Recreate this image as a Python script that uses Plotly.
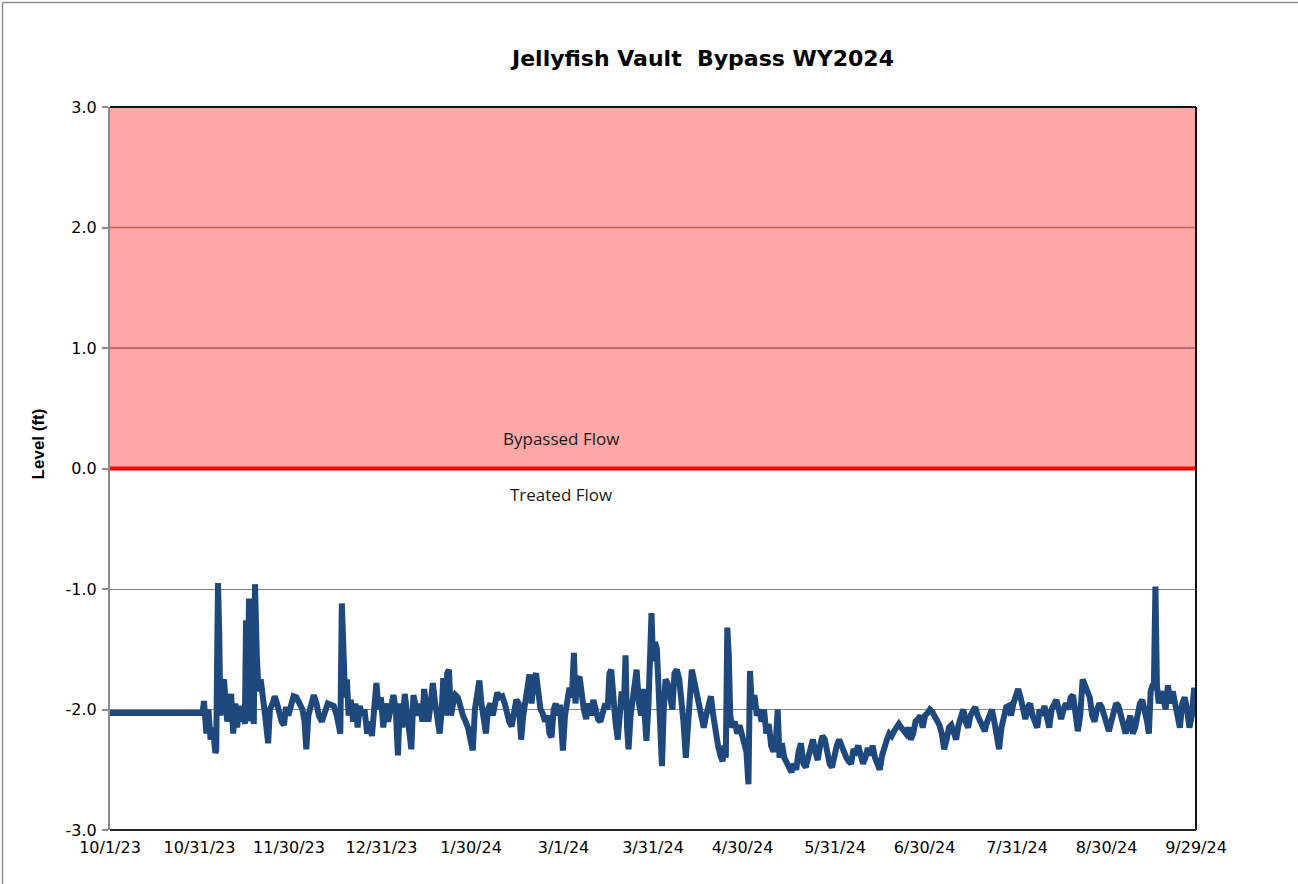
import datetime as dt
import plotly.graph_objects as go

# ---------------- data ----------------
start_date = "2023-10-01"
day_offsets = [
    0, 31, 31.5, 32.3, 33, 33.7, 34.5, 35.3, 35.6, 35.9, 36.2, 36.6, 37, 37.6, 38.2, 38.8, 39.3, 40, 40.6, 41.3,
    42, 42.6, 43.3, 44, 44.6, 45.2, 45.6, 46, 46.6, 47.2, 47.6, 48.2, 48.6, 49.2, 49.8, 50.5, 51.2, 52, 53, 53.6,
    54.5, 55.2, 56, 56.8, 57.5, 58.3, 59, 59.8, 60.6, 61.5, 62.5, 63.5, 64.5, 65.2, 65.8, 66.5, 67.3, 68.3, 69.2, 70,
    71, 72, 73, 74, 75, 76, 77.2, 77.7, 78.2, 78.8, 79.4, 80, 80.7, 81.5, 82.3, 83, 83.7, 84.5, 85.3, 86.2,
    87, 87.8, 88.6, 89.3, 90, 90.8, 91.6, 92.3, 93.2, 94.2, 95, 95.8, 96.5, 97.2, 98, 98.8, 99.6, 100.4, 101, 101.7,
    102.4, 103.2, 104, 104.7, 105.3, 106, 106.7, 107.5, 108.2, 109, 109.8, 110.5, 111.2, 111.7, 112.3, 113, 113.6, 114.3, 115, 115.8,
    116.6, 117.4, 118.3, 119.2, 120, 120.8, 121.6, 122.3, 123, 123.8, 124.5, 125.3, 126, 126.7, 127.5, 128.3, 129, 129.8, 130.6, 131.5,
    132.3, 133, 133.8, 134.6, 135.4, 136.2, 137, 137.8, 138.5, 139.3, 140, 140.6, 141.3, 142, 142.8, 143.5, 144.3, 145, 145.8, 146.6,
    147.3, 148, 148.7, 149.4, 150.2, 150.8, 151.4, 151.8, 152.5, 153.3, 154, 154.8, 155.5, 156, 156.7, 157.4, 158, 158.8, 159.6, 160.4,
    161.2, 162, 162.8, 163.6, 164.4, 165.2, 166, 166.8, 167.4, 168, 168.7, 169.4, 170.2, 170.8, 171.5, 172.2, 172.8, 173.3, 173.8, 174.5,
    175.2, 175.8, 176.5, 177.3, 178, 178.6, 179.3, 179.8, 180.5, 181, 181.5, 182, 182.7, 183.3, 183.8, 184.4, 185, 185.6, 186.2, 187,
    187.8, 188.5, 189.2, 190, 190.8, 191.5, 192.2, 193, 193.7, 194.4, 195, 195.7, 196.5, 197.3, 198.2, 199, 199.8, 200.6, 201.4, 202.2,
    203, 203.8, 204.6, 205.3, 205.9, 206.4, 206.9, 207.4, 207.9, 208.6, 209.4, 210.2, 211, 211.8, 212.6, 213.3, 214, 214.5, 215.2, 216,
    216.8, 217.6, 218.4, 219.2, 220, 220.8, 221.6, 222.4, 223.2, 223.8, 224.4, 225.2, 226, 226.8, 227.6, 228.4, 229.2, 230, 230.8, 231.6,
    232.4, 233.2, 234, 234.8, 235.6, 236.4, 237.2, 238, 238.8, 239.6, 240.4, 241.2, 242, 242.8, 243.6, 244.4, 245.2, 246, 246.8, 247.6,
    248.4, 249.2, 250, 250.8, 251.6, 252.4, 253.2, 254, 254.8, 255.6, 256.4, 257.2, 258, 258.8, 259.6, 260.4, 261.2, 262, 262.8, 263.6,
    264.4, 265.2, 266, 266.8, 267.6, 268.4, 269.2, 270, 270.8, 271.6, 272.4, 273.2, 274, 274.8, 275.6, 276.4, 277.2, 278, 278.8, 279.6,
    280.4, 281.2, 282, 282.8, 283.6, 284.4, 285.2, 286, 286.8, 287.6, 288.4, 289.2, 290, 290.8, 291.6, 292.4, 293.2, 294, 294.8, 295.6,
    296.4, 297.2, 298, 298.8, 299.6, 300.4, 301.2, 302, 302.8, 303.6, 304.4, 305.2, 306, 306.8, 307.6, 308.4, 309.2, 310, 310.8, 311.6,
    312.4, 313.2, 314, 314.8, 315.6, 316.4, 317.2, 318, 318.8, 319.6, 320.4, 321.2, 322, 322.8, 323.6, 324.4, 325.2, 326, 326.8, 327.6,
    328.4, 329.2, 330, 330.8, 331.6, 332.4, 333.2, 334, 334.8, 335.6, 336.4, 337.2, 338, 338.8, 339.6, 340.4, 341.2, 342, 342.8, 343.6,
    344.4, 345.2, 346, 346.8, 347.6, 348.2, 348.8, 349.4, 349.9, 350.4, 350.9, 351.5, 352.3, 353, 353.8, 354.6, 355.4, 356.2, 357, 357.8,
    358.6, 359.4, 360.2, 361, 361.8, 362.6, 363.4, 364,
]
levels = [
    -2.03, -2.03, -1.93, -2.2, -2.0, -2.25, -2.15, -2.36, -2.34, -1.6, -0.95, -1.35, -2.05, -1.8, -1.75, -1.95, -2.1, -2.0, -1.87, -2.2,
    -1.95, -2.15, -1.97, -2.1, -1.97, -2.12, -1.26, -2.1, -1.08, -2.1, -1.5, -2.12, -0.96, -1.55, -1.85, -1.75, -1.95, -2.05, -2.28, -2.0,
    -1.95, -1.89, -1.95, -2.05, -2.1, -2.13, -1.98, -2.05, -1.95, -1.89, -1.9, -1.96, -2.0, -2.1, -2.33, -2.05, -1.95, -1.88, -1.95, -2.05,
    -2.1, -2.0, -1.95, -1.96, -1.97, -2.05, -2.2, -1.12, -1.55, -1.9, -1.75, -2.05, -1.92, -2.1, -1.95, -2.15, -1.97, -2.05, -2.0, -2.2,
    -2.1, -2.22, -1.98, -1.78, -2.0, -1.9, -2.15, -1.95, -2.1, -2.0, -1.88, -2.0, -2.38, -1.95, -2.15, -1.87, -2.05, -2.2, -2.33, -1.88,
    -1.98, -2.05, -1.95, -2.1, -1.83, -2.0, -2.1, -1.95, -1.78, -1.95, -2.05, -2.2, -2.0, -1.74, -2.05, -1.7, -1.67, -2.05, -1.95, -1.88,
    -1.9, -2.0, -2.05, -2.1, -2.15, -2.25, -2.34, -2.0, -1.85, -1.76, -1.95, -2.1, -2.2, -2.0, -1.95, -2.05, -1.92, -1.86, -1.9, -1.89,
    -1.95, -2.05, -2.1, -2.14, -2.0, -1.92, -1.95, -2.25, -2.05, -1.9, -1.75, -1.71, -1.95, -1.75, -1.7, -1.9, -2.0, -2.03, -2.1, -2.05,
    -2.2, -2.23, -2.0, -1.95, -2.05, -1.96, -2.2, -2.34, -2.05, -1.9, -1.82, -1.9, -1.53, -1.95, -1.75, -1.73, -1.9, -2.0, -2.08, -1.95,
    -2.05, -1.92, -2.0, -2.08, -2.1, -2.0, -1.95, -2.0, -1.7, -1.67, -1.95, -2.1, -2.25, -2.1, -1.85, -2.0, -1.55, -2.15, -2.33, -2.05,
    -1.9, -1.72, -1.67, -1.95, -2.05, -1.83, -2.1, -2.26, -1.95, -1.65, -1.2, -1.6, -1.44, -1.5, -1.8, -2.2, -2.47, -2.0, -1.75, -1.79,
    -1.9, -2.0, -1.7, -1.67, -1.75, -1.9, -2.1, -2.4, -2.1, -1.85, -1.67, -1.75, -1.85, -1.9, -2.0, -2.15, -2.05, -1.95, -1.89, -2.05,
    -2.2, -2.3, -2.38, -2.43, -2.3, -2.4, -1.32, -1.55, -2.05, -2.15, -2.1, -2.2, -2.13, -2.2, -2.25, -2.35, -2.62, -1.68, -2.0, -1.88,
    -2.05, -2.0, -2.1, -2.0, -2.2, -2.12, -2.3, -2.35, -2.25, -2.0, -2.4, -2.28, -2.4, -2.45, -2.48, -2.52, -2.45, -2.5, -2.35, -2.28,
    -2.45, -2.48, -2.4, -2.3, -2.25, -2.35, -2.42, -2.3, -2.22, -2.25, -2.38, -2.45, -2.48, -2.35, -2.3, -2.25, -2.3, -2.38, -2.4, -2.43,
    -2.45, -2.33, -2.35, -2.3, -2.38, -2.45, -2.4, -2.32, -2.38, -2.3, -2.4, -2.45, -2.5, -2.38, -2.3, -2.25, -2.2, -2.22, -2.18, -2.15,
    -2.12, -2.15, -2.18, -2.2, -2.15, -2.25, -2.2, -2.1, -2.08, -2.05, -2.15, -2.05, -2.03, -2.0, -2.02, -2.05, -2.1, -2.13, -2.2, -2.33,
    -2.25, -2.15, -2.13, -2.2, -2.25, -2.13, -2.05, -2.0, -2.1, -2.15, -2.05, -2.0, -1.98, -2.05, -2.1, -2.15, -2.18, -2.1, -2.05, -2.0,
    -2.1, -2.2, -2.33, -2.15, -2.05, -1.98, -1.97, -2.05, -1.95, -1.9, -1.83, -1.9, -2.0, -2.08, -1.98, -1.95, -2.05, -2.1, -2.15, -2.0,
    -2.05, -1.97, -2.1, -2.15, -2.0, -1.95, -1.92, -2.0, -2.08, -2.0, -1.95, -2.0, -1.9, -1.88, -2.05, -2.18, -2.05, -1.75, -1.8, -1.85,
    -1.9, -2.05, -2.1, -2.0, -1.95, -1.98, -2.05, -2.1, -2.18, -2.1, -2.0, -1.95, -1.97, -2.05, -2.15, -2.2, -2.12, -2.05, -2.2, -2.15,
    -2.05, -1.95, -1.92, -2.0, -2.1, -2.2, -1.85, -1.8, -1.78, -0.98, -1.8, -1.95, -1.85, -1.9, -2.0, -1.8, -1.95, -1.85, -1.95, -2.1,
    -2.15, -1.95, -1.9, -2.0, -2.15, -2.05, -1.82, -1.95,
]
tick_dates = ["2023-10-01", "2023-10-31", "2023-11-30", "2023-12-31", "2024-01-30", "2024-03-01", "2024-03-31",
              "2024-04-30", "2024-05-31", "2024-06-30", "2024-07-31", "2024-08-30", "2024-09-29"]
tick_labels = ["10/1/23", "10/31/23", "11/30/23", "12/31/23", "1/30/24", "3/1/24", "3/31/24",
               "4/30/24", "5/31/24", "6/30/24", "7/31/24", "8/30/24", "9/29/24"]
y_ticks = [-3, -2, -1, 0, 1, 2, 3]
y_tick_labels = ["-3.0", "-2.0", "-1.0", "0.0", "1.0", "2.0", "3.0"]
bypass_threshold = 0.0
y_min, y_max = -3.0, 3.0
red_grid_levels = [1, 2]

# ---------------- build ----------------
t0 = dt.datetime.fromisoformat(start_date)
times = [t0 + dt.timedelta(days=d) for d in day_offsets]

TICKFONT = dict(family="DejaVu Sans, Liberation Sans, sans-serif", size=16, color="black")

fig = go.Figure()
fig.add_trace(go.Scatter(
    x=times, y=levels, mode="lines",
    line=dict(color="#1F497D", width=6),
    showlegend=False, hoverinfo="x+y",
))

shapes = []
# bypass zone (below gridlines)
shapes.append(dict(type="rect", xref="paper", yref="y", x0=0, x1=1, y0=bypass_threshold, y1=y_max,
                   fillcolor="#FFA8A8", line=dict(width=0), layer="below"))
for lv in red_grid_levels:
    shapes.append(dict(type="line", xref="paper", yref="y", x0=0, x1=1, y0=lv, y1=lv,
                       line=dict(color="#D05858", width=1.3), layer="above"))
# threshold line
shapes.append(dict(type="line", xref="paper", yref="y", x0=0, x1=1, y0=bypass_threshold, y1=bypass_threshold,
                   line=dict(color="#FF0000", width=4), layer="above"))
# plot frame (top / right / bottom)
shapes.append(dict(type="line", xref="paper", yref="paper", x0=0, x1=1, y0=1, y1=1,
                   line=dict(color="#111111", width=2), layer="above"))
shapes.append(dict(type="line", xref="paper", yref="paper", x0=1, x1=1, y0=0, y1=1,
                   line=dict(color="#111111", width=2), layer="above"))
shapes.append(dict(type="line", xref="paper", yref="paper", x0=0, x1=1, y0=0, y1=0,
                   line=dict(color="#222222", width=2), layer="above"))
# outer chart border (top & left visible)
W, H = 1298, 884
ml, mr, mt, mb = 110, 102, 107, 54
pw, ph = W - ml - mr, H - mt - mb
bx0 = (2.5 - ml) / pw
by1 = (H - mb - 2.5) / ph
shapes.append(dict(type="line", xref="paper", yref="paper", x0=bx0, x1=(W + 5 - ml) / pw, y0=by1, y1=by1,
                   line=dict(color="#8C8C8C", width=1.5), layer="above"))
shapes.append(dict(type="line", xref="paper", yref="paper", x0=bx0, x1=bx0, y0=-(mb + 5) / ph, y1=by1,
                   line=dict(color="#8C8C8C", width=1.5), layer="above"))

label_date = t0 + dt.timedelta(days=151)
annotations = [
    dict(x=label_date, y=0.25, xref="x", yref="y", text="Bypassed Flow", showarrow=False,
         font=dict(family="Open Sans, Noto Sans, sans-serif", size=17, color="#1a1a1a")),
    dict(x=label_date, y=-0.215, xref="x", yref="y", text="Treated Flow", showarrow=False,
         font=dict(family="Open Sans, Noto Sans, sans-serif", size=17, color="#1a1a1a")),
    dict(x=(38 - ml) / pw, y=0.2, xref="paper", yref="y", text="<b>Level (ft)</b>", showarrow=False,
         textangle=-90, xanchor="center", yanchor="middle",
         font=dict(family="Liberation Sans, Arial, sans-serif", size=17, color="black")),
]

fig.update_layout(
    width=W, height=H,
    margin=dict(l=ml, r=mr, t=mt, b=mb, pad=0),
    paper_bgcolor="white", plot_bgcolor="white",
    title=dict(text="<b>Jellyfish Vault  Bypass WY2024</b>", x=703 / W, xanchor="center",
               y=1 - 58 / H, yanchor="middle",
               font=dict(family="DejaVu Sans, Liberation Sans, sans-serif", size=22, color="black")),
    shapes=shapes, annotations=annotations,
    showlegend=False,
    font=TICKFONT,
)
fig.update_xaxes(
    type="date",
    range=[t0, t0 + dt.timedelta(days=364)],
    tickvals=[dt.datetime.fromisoformat(d) for d in tick_dates], ticktext=tick_labels,
    showgrid=False, zeroline=False, showline=False, ticks="",
    tickfont=TICKFONT,
    ticklabelstandoff=6,
)
fig.update_yaxes(
    range=[y_min, y_max], tickvals=y_ticks, ticktext=y_tick_labels,
    showgrid=True, gridcolor="#868686", gridwidth=1.3, zeroline=False,
    showline=True, linecolor="#8C8C8C", linewidth=2,
    ticks="outside", ticklen=6, tickcolor="#8C8C8C", tickwidth=1.5,
    tickfont=TICKFONT, ticklabelstandoff=2,
)

fig.write_html("out.html", config={"displayModeBar": False},
               post_script="document.body.style.margin='0';")
